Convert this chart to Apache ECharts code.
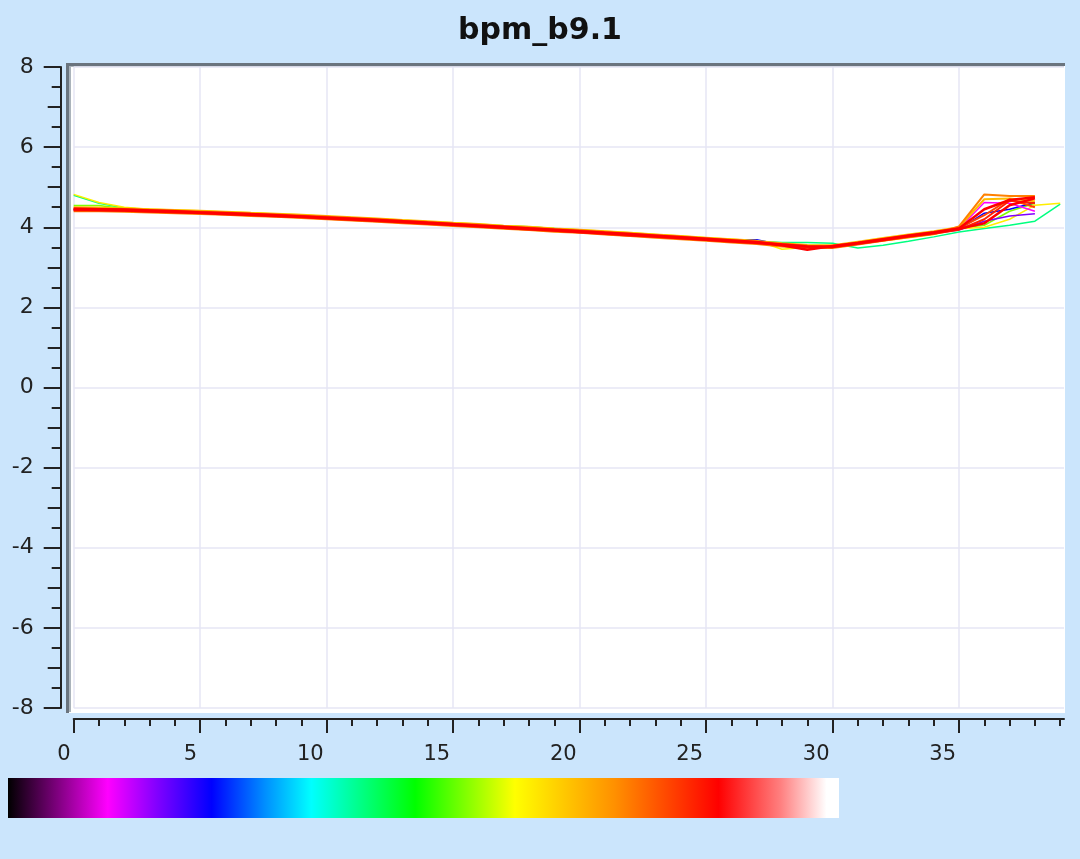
<!DOCTYPE html>
<html>
<head>
<meta charset="utf-8">
<script src="https://cdn.jsdelivr.net/npm/echarts@6/dist/echarts.min.js"></script>
<style>
  html, body { margin: 0; padding: 0; background: #cbe5fc; }
  #chart { width: 1080px; height: 859px; }
</style>
</head>
<body>
<div id="chart"></div>
<script>
// ---- data ----
const TITLE = 'bpm_b9.1';
const X_VALUES = [0,1,2,3,4,5,6,7,8,9,10,11,12,13,14,15,16,17,18,19,20,21,22,23,24,25,26,27,28,29,30,31,32,33,34,35,36,37,38,39];
const X_MAJOR_TICKS = [0,5,10,15,20,25,30,35];
const X_MINOR_TICKS = [0,1,2,3,4,5,6,7,8,9,10,11,12,13,14,15,16,17,18,19,20,21,22,23,24,25,26,27,28,29,30,31,32,33,34,35,36,37,38,39];
const Y_MIN = -8, Y_MAX = 8, Y_MAJOR_STEP = 2, Y_MEDIUM_STEP = 1;

const traceGreen   = [4.80,4.60,4.48,4.44,4.42,4.39,4.37,4.34,4.32,4.29,4.26,4.23,4.20,4.16,4.13,4.10,4.07,4.04,4.01,3.97,3.93,3.89,3.85,3.81,3.77,3.73,3.69,3.65,3.62,3.62,3.60,3.48,3.55,3.65,3.76,3.88,3.97,4.05,4.15,4.58];
const traceLime    = [4.54,4.54,4.46,4.43,4.41,4.39,4.36,4.34,4.31,4.29,4.25,4.23,4.20,4.16,4.13,4.09,4.06,4.02,3.99,3.95,3.92,3.88,3.84,3.80,3.76,3.72,3.68,3.64,3.58,3.55,3.54,3.62,3.70,3.79,3.87,3.98,4.05,4.40,4.60];
const traceYellow  = [4.82,4.62,4.50,4.45,4.43,4.41,4.38,4.36,4.33,4.31,4.27,4.24,4.21,4.18,4.14,4.11,4.08,4.04,4.01,3.97,3.94,3.90,3.86,3.82,3.78,3.74,3.70,3.66,3.45,3.50,3.52,3.58,3.66,3.74,3.82,3.96,4.00,4.20,4.55,4.60];
const traceBlue    = [4.44,4.43,4.42,4.40,4.38,4.36,4.34,4.31,4.29,4.26,4.23,4.20,4.17,4.13,4.10,4.06,4.03,3.99,3.96,3.92,3.89,3.85,3.81,3.77,3.73,3.69,3.69,3.69,3.56,3.51,3.51,3.60,3.69,3.78,3.86,3.95,4.35,4.45,4.62];
const traceMagenta = [4.45,4.44,4.43,4.41,4.39,4.37,4.34,4.32,4.29,4.27,4.24,4.21,4.18,4.14,4.11,4.07,4.04,4.00,3.97,3.93,3.90,3.86,3.82,3.78,3.74,3.70,3.66,3.62,3.56,3.52,3.52,3.61,3.70,3.79,3.87,3.97,4.62,4.60,4.40];
const tracePurple  = [4.43,4.42,4.41,4.39,4.37,4.35,4.33,4.30,4.28,4.25,4.22,4.19,4.16,4.12,4.09,4.05,4.02,3.98,3.95,3.91,3.88,3.84,3.80,3.76,3.72,3.68,3.64,3.60,3.54,3.50,3.50,3.59,3.68,3.77,3.85,3.93,4.15,4.28,4.34];
const traceAmber   = [4.50,4.49,4.47,4.45,4.43,4.41,4.39,4.36,4.34,4.31,4.28,4.25,4.22,4.18,4.15,4.11,4.08,4.04,4.01,3.97,3.94,3.90,3.86,3.82,3.78,3.74,3.70,3.66,3.60,3.56,3.55,3.64,3.73,3.82,3.90,4.00,4.70,4.72,4.65];
const traceOrange  = [4.40,4.40,4.39,4.37,4.35,4.33,4.31,4.28,4.26,4.23,4.20,4.17,4.14,4.10,4.07,4.03,4.00,3.96,3.93,3.89,3.86,3.82,3.78,3.74,3.70,3.66,3.62,3.58,3.52,3.48,3.48,3.57,3.66,3.75,3.83,4.02,4.82,4.78,4.78];
const traceOrRed   = [4.47,4.46,4.45,4.43,4.41,4.39,4.37,4.34,4.32,4.29,4.26,4.23,4.20,4.16,4.13,4.09,4.06,4.02,3.99,3.95,3.92,3.88,3.84,3.80,3.76,3.72,3.68,3.64,3.58,3.54,3.53,3.62,3.71,3.80,3.88,3.98,4.30,4.70,4.50];
const traceRed2    = [4.42,4.42,4.41,4.39,4.37,4.35,4.32,4.30,4.27,4.25,4.21,4.18,4.15,4.12,4.08,4.05,4.01,3.98,3.94,3.91,3.87,3.83,3.79,3.76,3.72,3.68,3.64,3.60,3.55,3.50,3.50,3.58,3.67,3.76,3.84,3.94,4.20,4.66,4.60];
const traceRed3    = [4.46,4.45,4.44,4.42,4.40,4.37,4.35,4.33,4.30,4.27,4.24,4.21,4.18,4.15,4.11,4.08,4.04,4.01,3.97,3.94,3.90,3.86,3.83,3.79,3.75,3.71,3.67,3.63,3.55,3.44,3.53,3.61,3.70,3.79,3.87,3.97,4.45,4.68,4.75];
const traceRed1    = [4.44,4.43,4.42,4.40,4.38,4.36,4.34,4.31,4.29,4.26,4.23,4.20,4.17,4.13,4.10,4.06,4.03,3.99,3.96,3.92,3.88,3.85,3.81,3.77,3.73,3.69,3.65,3.61,3.57,3.52,3.51,3.60,3.69,3.78,3.86,3.96,4.10,4.55,4.72];

// [name, values, colour, width]
const TRACES = [
  ['green',   traceGreen,   '#00ff80', 1.5],
  ['lime',    traceLime,    '#80ff00', 1.5],
  ['yellow',  traceYellow,  '#ffee00', 1.5],
  ['blue',    traceBlue,    '#0000ff', 1.5],
  ['magenta', traceMagenta, '#ff00ff', 1.5],
  ['purple',  tracePurple,  '#8000ff', 1.5],
  ['amber',   traceAmber,   '#ffbb00', 2],
  ['orange',  traceOrange,  '#ff8000', 2],
  ['orred',   traceOrRed,   '#ff4400', 2],
  ['red2',    traceRed2,    '#ff2200', 2],
  ['red3',    traceRed3,    '#ff0000', 2.5],
  ['red1',    traceRed1,    '#ff0000', 2.5]
];

const COLORBAR_STOPS = [
  [0.00, '#000000'], [0.12, '#ff00ff'], [0.18, '#8000ff'], [0.245, '#0000ff'],
  [0.31, '#0090ff'], [0.365, '#00ffff'], [0.49, '#00ff00'], [0.61, '#ffff00'],
  [0.73, '#ff9000'], [0.855, '#ff0000'], [0.93, '#ff8080'], [0.985, '#ffffff'], [1.00, '#ffffff']
];

// ---- chart ----
const chart = echarts.init(document.getElementById('chart'), null, { renderer: 'canvas' });
const FONT = 'DejaVu Sans';
const AX = '#222222';

const series = TRACES.map(([name, vals, color, w]) => ({
  name: name,
  type: 'line',
  xAxisIndex: 0,
  yAxisIndex: 0,
  showSymbol: false,
  symbol: 'none',
  animation: false,
  lineStyle: { color: color, width: w },
  data: vals.map((v, i) => [X_VALUES[i], v]),
  z: 5
}));

const option = {
  backgroundColor: '#cbe5fc',
  animation: false,
  title: {
    text: TITLE,
    left: 'center',
    top: 11,
    textStyle: { fontFamily: FONT, fontSize: 30, fontWeight: 'bold', color: '#111' }
  },
  grid: {
    left: 73.7, right: 16, top: 67, bottom: 151,
    show: false
  },
  graphic: {
    elements: [
      { type: 'rect', z: -100, shape: { x: 66, y: 63, width: 999, height: 650 }, style: { fill: '#ffffff' } },
      { type: 'rect', z: -99, shape: { x: 66, y: 63, width: 999, height: 3 }, style: { fill: '#6a747e' } },
      { type: 'rect', z: -99, shape: { x: 66, y: 63, width: 3, height: 650 }, style: { fill: '#6a747e' } },
      { type: 'rect', z: -99, shape: { x: 69, y: 66, width: 2, height: 646 }, style: { fill: '#aab3bb' } },
      { type: 'rect', z: -99, shape: { x: 69, y: 66, width: 995, height: 1 }, style: { fill: '#aab3bb' } },
      {
        type: 'rect', z: 10,
        shape: { x: 8, y: 778, width: 831, height: 40 },
        style: {
          fill: new echarts.graphic.LinearGradient(0, 0, 1, 0,
            COLORBAR_STOPS.map(([o, c]) => ({ offset: o, color: c })))
        }
      }
    ]
  },
  xAxis: [
    {
      type: 'value', min: 0, max: 39.15, interval: 5,
      position: 'bottom', offset: 11,
      axisLine: { show: true, onZero: false, lineStyle: { color: AX, width: 2 } },
      axisTick: { show: true, length: 14, lineStyle: { color: AX, width: 2 }, customValues: X_MAJOR_TICKS },
      minorTick: { show: false },
      axisLabel: {
        show: true, customValues: X_MAJOR_TICKS, margin: 25, align: 'right', padding: [0, 3, 0, 0],
        fontFamily: FONT, fontSize: 21, color: AX
      },
      splitLine: { show: true, lineStyle: { color: '#e6e6f5', width: 1.5 } }
    },
    {
      type: 'value', min: 0, max: 39.15,
      position: 'bottom', offset: 11,
      axisLine: { show: false, onZero: false },
      axisTick: { show: true, length: 7, lineStyle: { color: AX, width: 2 }, customValues: X_MINOR_TICKS },
      axisLabel: { show: false },
      splitLine: { show: false }
    }
  ],
  yAxis: [
    {
      type: 'value', min: Y_MIN, max: Y_MAX, interval: Y_MAJOR_STEP,
      position: 'left', offset: 13,
      axisLine: { show: true, onZero: false, lineStyle: { color: AX, width: 2 } },
      axisTick: { show: true, length: 17, lineStyle: { color: AX, width: 2 } },
      minorTick: { show: true, splitNumber: 4, length: 9, lineStyle: { color: AX, width: 2 } },
      axisLabel: { show: true, margin: 27, fontFamily: FONT, fontSize: 22, color: AX },
      splitLine: { show: true, lineStyle: { color: '#e6e6f5', width: 1.5 } }
    },
    {
      type: 'value', min: Y_MIN, max: Y_MAX, interval: Y_MEDIUM_STEP,
      position: 'left', offset: 13,
      axisLine: { show: false, onZero: false },
      axisTick: { show: true, length: 13, lineStyle: { color: AX, width: 2 } },
      axisLabel: { show: false },
      splitLine: { show: false }
    }
  ],
  series: series
};

chart.setOption(option);
</script>
</body>
</html>
